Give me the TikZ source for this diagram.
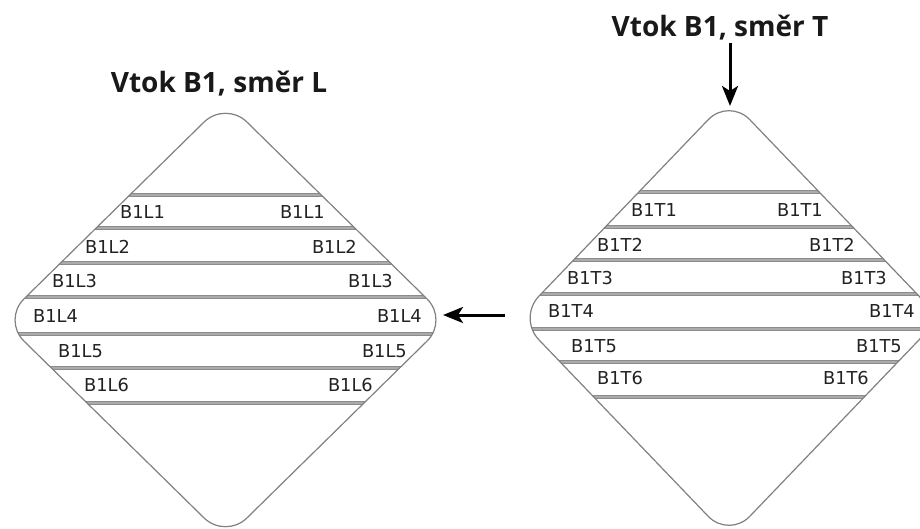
\documentclass[tikz,border=0pt]{standalone}
\usepackage{fontspec}
\setmainfont{DejaVu Sans}
\newfontfamily\headfont{Open Sans}
\usetikzlibrary{arrows.meta}

\definecolor{edgegray}{HTML}{808080}
\definecolor{bandgray}{HTML}{8C8C8C}
\definecolor{bandlight}{HTML}{ABABAB}
\definecolor{inkgray}{HTML}{222222}

% rounded rhombus: centre (#1,#2), half-width #3, half-height #4
\newcommand\rhombpath[4]{({#1-#3/2},{#2-#4/2}) -- ({#1},{#2-#4}) -- ({#1+#3},{#2}) -- ({#1},{#2+#4}) -- ({#1-#3},{#2}) -- cycle}

\tikzset{
  rhomb/.style={draw=edgegray, line width=1.2pt, rounded corners=30pt},
  band/.style={draw=bandgray, line width=1.3pt, double=bandlight, double distance=2.2pt},
  lane/.style={font=\fontsize{17.8}{20}\selectfont, text=inkgray, inner sep=0pt},
  heading/.style={font=\headfont\bfseries\fontsize{28}{32}\selectfont, text=black!90, inner sep=0pt, anchor=base},
  flow/.style={line width=3pt, -{Stealth[length=20pt, width=16pt, inset=5pt]}}
}

\begin{document}
\begin{tikzpicture}[x=1pt, y=-1pt]
\useasboundingbox (0,0) rectangle (920,529);

% ---------- left intersection (direction L) ----------
\begin{scope}
  \clip[rounded corners=30pt] \rhombpath{225.5}{320}{223}{219};
  \foreach \yy in {195,228,263,297,334,368,403}
    \draw[band] (0,\yy) -- (460,\yy);
\end{scope}
\draw[rhomb] \rhombpath{225.5}{320}{223}{219};

\node[heading] (titleL) at (219,93) {Vtok B1, směr L};

\node[lane, anchor=west] (l1w) at (120,212) {B1L1};
\node[lane, anchor=east] (l1e) at (325,212) {B1L1};
\node[lane, anchor=west] (l2w) at (85,247) {B1L2};
\node[lane, anchor=east] (l2e) at (357,247) {B1L2};
\node[lane, anchor=west] (l3w) at (52,281) {B1L3};
\node[lane, anchor=east] (l3e) at (393,281) {B1L3};
\node[lane, anchor=west] (l4w) at (33,316) {B1L4};
\node[lane, anchor=east] (l4e) at (422,316) {B1L4};
\node[lane, anchor=west] (l5w) at (58,351) {B1L5};
\node[lane, anchor=east] (l5e) at (407,351) {B1L5};
\node[lane, anchor=west] (l6w) at (84,385) {B1L6};
\node[lane, anchor=east] (l6e) at (373,385) {B1L6};

% ---------- right intersection (direction T) ----------
\begin{scope}
  \clip[rounded corners=30pt] \rhombpath{729}{318}{211}{220};
  \foreach \yy in {192,227,260,294,329,362,397}
    \draw[band] (500,\yy) -- (960,\yy);
\end{scope}
\draw[rhomb] \rhombpath{729}{318}{211}{220};

\node[heading] (titleT) at (720,37) {Vtok B1, směr T};

\node[lane, anchor=west] (t1w) at (631,210) {B1T1};
\node[lane, anchor=east] (t1e) at (823,210) {B1T1};
\node[lane, anchor=west] (t2w) at (597,245) {B1T2};
\node[lane, anchor=east] (t2e) at (855,245) {B1T2};
\node[lane, anchor=west] (t3w) at (567,278) {B1T3};
\node[lane, anchor=east] (t3e) at (887,278) {B1T3};
\node[lane, anchor=west] (t4w) at (548,311) {B1T4};
\node[lane, anchor=east] (t4e) at (915,311) {B1T4};
\node[lane, anchor=west] (t5w) at (571,346) {B1T5};
\node[lane, anchor=east] (t5e) at (902,346) {B1T5};
\node[lane, anchor=west] (t6w) at (597,378) {B1T6};
\node[lane, anchor=east] (t6e) at (869,378) {B1T6};

% ---------- arrows ----------
\coordinate (Rtop) at (730,106);
\coordinate (Rleft) at (505,315);
\coordinate (Lright) at (443,315);
\draw[flow] ([yshift=-2pt]titleT.south -| Rtop) -- (Rtop);
\draw[flow] (Rleft) -- (Lright);
\end{tikzpicture}
\end{document}
